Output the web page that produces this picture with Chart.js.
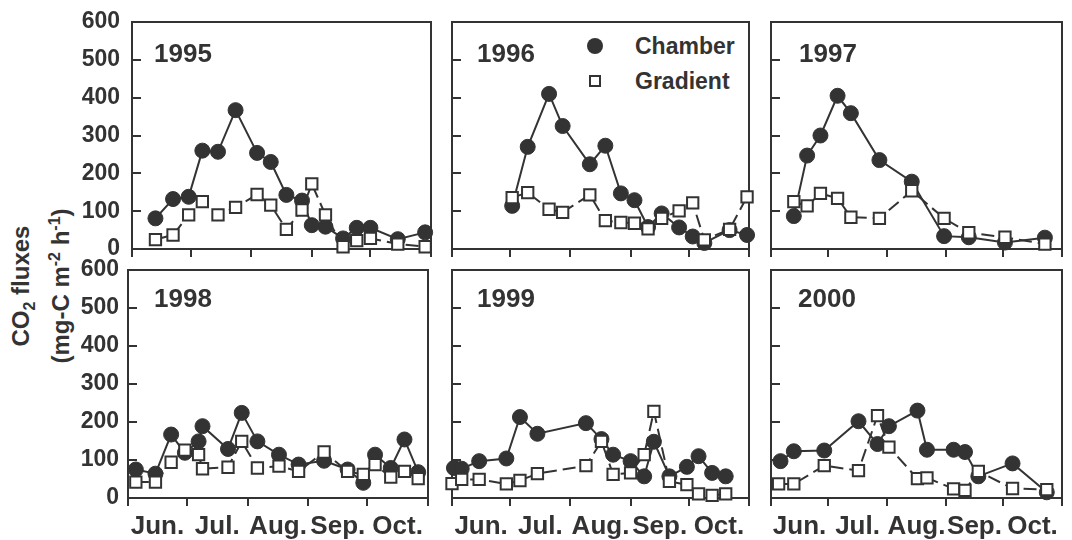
<!DOCTYPE html>
<html>
<head>
<meta charset="utf-8">
<script src="https://cdn.jsdelivr.net/npm/chart.js@4.4.1/dist/chart.umd.min.js"></script>
<style>
  html, body { margin:0; padding:0; background:#fff; width:1072px; height:540px; overflow:hidden; }
  body { position:relative; font-family:'Liberation Sans', Arial, sans-serif; font-weight:bold; color:#333; }
  canvas { position:absolute; }
  .yr { position:absolute; font-size:26px; line-height:26px; white-space:nowrap; }
  .lg { position:absolute; font-size:23px; line-height:23px; white-space:nowrap; }
  #ytitle { position:absolute; width:300px; height:80px; left:-109px; top:246px; transform:rotate(-90deg);
            text-align:center; font-size:24px; }
  #ytitle div { line-height:40px; height:40px; white-space:nowrap; }
  #ytitle sub, #ytitle sup { font-size:16px; line-height:0; }
</style>
</head>
<body>
<div id="ytitle"><div>CO<sub>2</sub> fluxes</div><div>(mg-C m<sup>-2</sup> h<sup>-1</sup>)</div></div>
<div class="lg" style="left:587px;top:38px;width:16px;height:16px;border-radius:50%;background:#333;"></div>
<div class="lg" style="left:589px;top:75px;width:12px;height:12px;box-sizing:border-box;border:2px solid #333;background:#fff;"></div>
<div class="lg" style="left:635px;top:35px;">Chamber</div>
<div class="lg" style="left:635px;top:70px;">Gradient</div>
<script>
// ---- data (x = day of year, y = CO2 flux, mg-C m-2 h-1) ----
const monthLabels = ['Jun.', 'Jul.', 'Aug.', 'Sep.', 'Oct.'];
const monthStarts = [152, 182, 213, 244, 274, 305];
const fluxTicks = [0, 100, 200, 300, 400, 500, 600];
const years = ['1995', '1996', '1997', '1998', '1999', '2000'];
const seriesNames = ['Chamber', 'Gradient'];

const chamber1995Day  = [164,173,181,188,196,205,216,223,231,239,244,251,260,267,274,288,302];
const chamber1995Flux = [81,132,138,260,257,367,254,230,143,128,63,59,28,56,56,26,44];
const gradient1995Day  = [164,173,181,188,196,205,216,223,231,239,244,251,260,267,274,288,302];
const gradient1995Flux = [25,37,90,125,90,110,144,116,52,103,172,90,6,22,28,13,6];

const chamber1996Day  = [183,191,202,209,223,231,239,246,253,260,269,276,282,295,304];
const chamber1996Flux = [114,270,410,325,224,273,147,129,58,94,57,33,16,50,37];
const gradient1996Day  = [183,191,202,209,223,231,239,246,253,260,269,276,282,295,304];
const gradient1996Flux = [136,149,105,97,143,75,70,68,53,81,101,122,24,52,138];

const chamber1997Day  = [164,171,178,187,194,209,226,243,256,275,296];
const chamber1997Flux = [87,247,300,405,359,235,178,34,31,17,30];
const gradient1997Day  = [164,171,178,187,194,209,226,243,256,275,296];
const gradient1997Flux = [125,114,147,134,84,81,154,81,43,31,13];

const chamber1998Day  = [156,166,174,181,188,190,203,210,218,229,239,252,264,272,278,286,293,300];
const chamber1998Flux = [75,64,167,119,149,189,129,224,149,114,88,98,75,40,114,79,154,68];
const gradient1998Day  = [156,166,174,181,188,190,203,210,218,229,239,252,264,272,278,286,293,300];
const gradient1998Flux = [42,42,94,126,114,77,81,149,79,84,70,121,70,62,88,55,70,51];

const chamber1999Day  = [153,157,166,180,187,196,221,229,235,244,251,256,264,273,279,286,293];
const chamber1999Flux = [79,77,97,104,213,169,197,155,114,97,57,148,57,82,110,66,57];
const gradient1999Day  = [152,157,166,180,187,196,221,229,235,244,251,256,264,273,279,286,293];
const gradient1999Flux = [38,49,49,37,46,64,85,149,62,66,114,228,44,35,11,7,11];

const chamber2000Day  = [157,164,180,198,208,214,229,234,248,254,261,279,297];
const chamber2000Flux = [97,123,125,202,142,189,230,127,127,121,57,91,15];
const gradient2000Day  = [156,164,180,198,208,214,229,234,248,254,261,279,297];
const gradient2000Flux = [37,37,85,72,217,134,51,53,24,20,70,25,22];

const panelData = [
  [chamber1995Day, chamber1995Flux, gradient1995Day, gradient1995Flux],
  [chamber1996Day, chamber1996Flux, gradient1996Day, gradient1996Flux],
  [chamber1997Day, chamber1997Flux, gradient1997Day, gradient1997Flux],
  [chamber1998Day, chamber1998Flux, gradient1998Day, gradient1998Flux],
  [chamber1999Day, chamber1999Flux, gradient1999Day, gradient1999Flux],
  [chamber2000Day, chamber2000Flux, gradient2000Day, gradient2000Flux]
];

// ---- layout (plot-area edges in page pixels) ----
const INK = '#333333';
const FONT = "'Liberation Sans', Arial, sans-serif";
const geoms = [
  {L:132, R:435,  T:22,  B:249, showY:true,  showX:false, yPad:12, yrX:154, yrY:40},
  {L:450, R:753,  T:22,  B:249, showY:false, showX:false, yPad:12, yrX:477, yrY:40},
  {L:769, R:1071, T:22,  B:249, showY:false, showX:false, yPad:12, yrX:799, yrY:40},
  {L:128, R:432,  T:270, B:498, showY:true,  showX:true,  yPad:9,  yrX:154, yrY:285},
  {L:450, R:753,  T:270, B:498, showY:false, showX:true,  yPad:12, yrX:477, yrY:285},
  {L:769, R:1071, T:270, B:498, showY:false, showX:true,  yPad:12, yrX:798, yrY:284.5}
];

const labelPos = monthLabels.map((m, i) => (monthStarts[i] + monthStarts[i + 1]) / 2);
const allXTicks = [];
monthStarts.forEach((d, i) => { allXTicks.push(d); if (i < labelPos.length) allXTicks.push(labelPos[i]); });

const framePlugin = {
  id: 'frame',
  beforeDatasetsDraw(chart) {
    const { ctx, chartArea: a } = chart;
    const y = chart.scales.y;
    ctx.save();
    ctx.strokeStyle = INK;
    ctx.lineWidth = 2;
    ctx.strokeRect(a.left, a.top, a.right - a.left, a.bottom - a.top);
    ctx.beginPath();
    y.ticks.forEach(t => {
      if (t.value > 0 && t.value < 600) {
        const py = Math.round(y.getPixelForValue(t.value));
        ctx.moveTo(a.left, py);
        ctx.lineTo(a.left + 9, py);
      }
    });
    ctx.stroke();
    ctx.restore();
  }
};

function pts(xs, ys) { return xs.map((x, i) => ({ x: x, y: ys[i] })); }

geoms.forEach((g, idx) => {
  const padL = g.showY ? 70 : 8;
  const padT = 32;
  const padR = g.R >= 1070 ? 1 : 6;
  const padB = g.showX ? (540 - g.B) : 32;
  const cv = document.createElement('canvas');
  const w = padL + (g.R - g.L) + padR;
  const h = padT + (g.B - g.T) + padB;
  cv.width = w; cv.height = h;
  cv.style.left = (g.L - padL) + 'px';
  cv.style.top = (g.T - padT) + 'px';
  cv.style.width = w + 'px'; cv.style.height = h + 'px';
  document.body.appendChild(cv);

  const yr = document.createElement('div');
  yr.className = 'yr';
  yr.style.left = g.yrX + 'px';
  yr.style.top = g.yrY + 'px';
  yr.textContent = years[idx];
  document.body.appendChild(yr);

  const [cD, cF, gD, gF] = panelData[idx];
  new Chart(cv, {
    type: 'line',
    data: {
      datasets: [
        {
          label: seriesNames[1], data: pts(gD, gF), order: 0, clip: false,
          borderColor: INK, borderWidth: 2, borderDash: [13, 6],
          pointStyle: 'rect', pointRadius: 8, pointBorderWidth: 2,
          pointBackgroundColor: '#fff', pointBorderColor: INK, tension: 0, fill: false
        },
        {
          label: seriesNames[0], data: pts(cD, cF), order: 1, clip: false,
          borderColor: INK, borderWidth: 2,
          pointStyle: 'circle', pointRadius: 7.5, pointBorderWidth: 1,
          pointBackgroundColor: INK, pointBorderColor: INK, tension: 0, fill: false
        }
      ]
    },
    options: {
      responsive: false,
      animation: false,
      events: [],
      layout: { padding: { top: padT, right: padR, left: 0, bottom: 0 } },
      plugins: { legend: { display: false }, tooltip: { enabled: false }, title: { display: false } },
      scales: {
        x: {
          type: 'linear', min: monthStarts[0], max: monthStarts[monthStarts.length - 1],
          afterBuildTicks: s => { s.ticks = allXTicks.map(v => ({ value: v })); },
          afterFit: s => { s.height = padB; },
          border: { display: false },
          grid: {
            display: true, drawOnChartArea: false, drawTicks: true, tickLength: 8, lineWidth: 2,
            color: c => (c.tick && labelPos.includes(c.tick.value)) ? 'rgba(0,0,0,0)' : INK
          },
          ticks: {
            display: g.showX, autoSkip: false, maxRotation: 0, minRotation: 0, padding: 5,
            color: INK, font: { family: FONT, weight: 'bold', size: 26 },
            callback: v => { const i = labelPos.indexOf(v); return i >= 0 ? monthLabels[i] : ''; }
          }
        },
        y: {
          type: 'linear', min: fluxTicks[0], max: fluxTicks[fluxTicks.length - 1],
          afterBuildTicks: s => { s.ticks = fluxTicks.map(v => ({ value: v })); },
          afterFit: s => { s.width = padL; },
          border: { display: false },
          grid: { display: false, drawTicks: false },
          ticks: {
            display: g.showY, padding: g.yPad, color: INK,
            font: { family: FONT, weight: 'bold', size: 23 }
          }
        }
      }
    },
    plugins: [framePlugin]
  });
});
</script>
</body>
</html>
